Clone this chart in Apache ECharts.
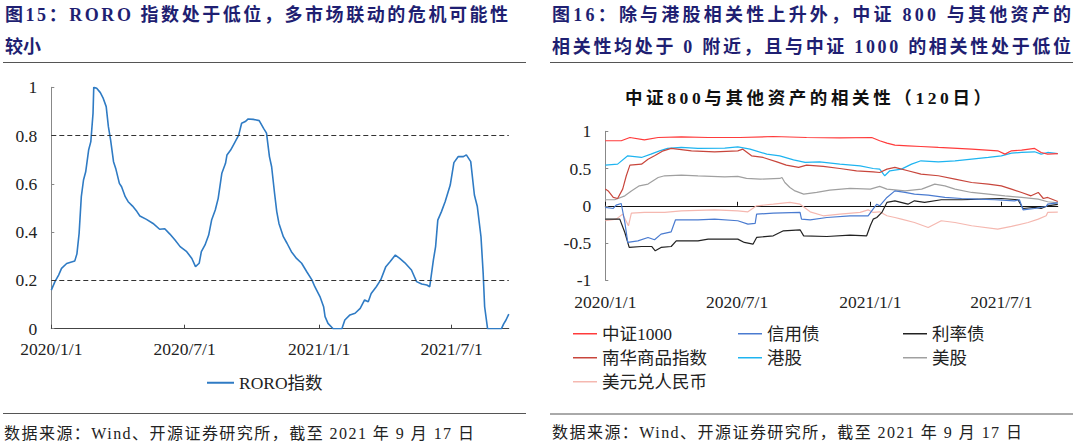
<!DOCTYPE html>
<html>
<head>
<meta charset="utf-8">
<script src="https://cdn.jsdelivr.net/npm/echarts@6/dist/echarts.min.js"></script>
<style>
html,body{margin:0;padding:0;background:#fff;}
#c{width:1080px;height:443px;}
</style>
</head>
<body>
<div id="c"></div>
<script>
// ---------- DATA ----------
const xTickDates = ['2020-01-01', '2020-07-01', '2021-01-01', '2021-07-01'];
const dateMin = '2020-01-01';
const dateMax = '2021-09-17';

// Left: RORO index
const roroName = 'RORO指数';
const roro = [
 ['2020-01-01',0.16],['2020-01-06',0.195],['2020-01-11',0.222],['2020-01-15',0.25],['2020-01-22',0.27],
 ['2020-02-02',0.28],['2020-02-05',0.31],['2020-02-08',0.395],['2020-02-11',0.547],['2020-02-14',0.616],
 ['2020-02-17',0.65],['2020-02-21',0.74],['2020-02-24',0.775],['2020-02-27',0.892],['2020-02-28',1.0],
 ['2020-03-03',0.996],['2020-03-08',0.978],['2020-03-12',0.954],['2020-03-16',0.92],['2020-03-19',0.837],
 ['2020-03-22',0.782],['2020-03-26',0.692],['2020-03-29',0.664],['2020-04-03',0.602],['2020-04-06',0.588],
 ['2020-04-11',0.547],['2020-04-15',0.526],['2020-04-21',0.508],['2020-04-27',0.485],['2020-05-01',0.467],
 ['2020-05-10',0.453],['2020-05-19',0.436],['2020-05-28',0.412],['2020-06-04',0.414],['2020-06-11',0.392],
 ['2020-06-18',0.367],['2020-06-25',0.34],['2020-07-04',0.319],['2020-07-11',0.291],['2020-07-16',0.257],
 ['2020-07-21',0.271],['2020-07-24',0.319],['2020-07-29',0.347],['2020-08-03',0.388],['2020-08-07',0.45],
 ['2020-08-12',0.492],['2020-08-16',0.54],['2020-08-21',0.644],['2020-08-26',0.685],['2020-08-28',0.72],
 ['2020-09-02',0.74],['2020-09-07',0.768],['2020-09-13',0.802],['2020-09-17',0.851],['2020-09-22',0.858],
 ['2020-09-26',0.869],['2020-10-03',0.867],['2020-10-11',0.862],['2020-10-17',0.83],['2020-10-21',0.81],
 ['2020-10-25',0.713],['2020-10-28',0.671],['2020-11-01',0.561],['2020-11-04',0.485],['2020-11-07',0.436],
 ['2020-11-13',0.381],['2020-11-18',0.354],['2020-11-24',0.319],['2020-12-01',0.291],['2020-12-08',0.271],
 ['2020-12-15',0.236],['2020-12-22',0.202],['2020-12-26',0.174],['2021-01-02',0.133],['2021-01-07',0.091],
 ['2021-01-09',0.05],['2021-01-13',0.022],['2021-01-20',0.0],['2021-02-01',0.0],['2021-02-05',0.036],
 ['2021-02-12',0.057],['2021-02-19',0.064],['2021-02-26',0.084],['2021-03-04',0.119],['2021-03-09',0.112],
 ['2021-03-13',0.146],['2021-03-20',0.174],['2021-03-26',0.202],['2021-04-02',0.257],['2021-04-08',0.278],
 ['2021-04-15',0.305],['2021-04-21',0.291],['2021-04-28',0.273],['2021-05-07',0.243],['2021-05-14',0.195],
 ['2021-05-21',0.185],['2021-05-28',0.181],['2021-06-01',0.174],['2021-06-06',0.285],['2021-06-09',0.34],
 ['2021-06-12',0.45],['2021-06-17',0.485],['2021-06-22',0.526],['2021-06-29',0.595],['2021-07-04',0.688],
 ['2021-07-10',0.713],['2021-07-17',0.713],['2021-07-21',0.72],['2021-07-27',0.692],['2021-08-01',0.554],
 ['2021-08-05',0.506],['2021-08-10',0.381],['2021-08-13',0.229],['2021-08-15',0.091],['2021-08-19',0.0],
 ['2021-09-07',0.0],['2021-09-10',0.02],['2021-09-13',0.035],['2021-09-17',0.06]
];
const roroThresholds = [0.8, 0.2];
const leftYTicks = {min: 0, max: 1, interval: 0.2};

// Right: correlation of CSI 800 with other assets (120d)
const rightYTicks = {min: -1, max: 1, interval: 0.5};
const csi1000 = [
 ['2020-01-01',0.873],['2020-01-23',0.873],['2020-02-04',0.917],['2020-02-24',0.886],['2020-03-14',0.917],
 ['2020-04-15',0.926],['2020-05-22',0.917],['2020-07-05',0.917],['2020-08-20',0.93],['2020-10-05',0.917],
 ['2020-11-20',0.913],['2021-01-03',0.917],['2021-01-14',0.873],['2021-01-24',0.841],['2021-02-04',0.814],
 ['2021-02-22',0.805],['2021-03-12',0.796],['2021-04-05',0.783],['2021-05-21',0.76],['2021-06-26',0.738],
 ['2021-07-06',0.694],['2021-07-15',0.738],['2021-07-29',0.747],['2021-08-16',0.77],['2021-08-25',0.716],
 ['2021-09-03',0.694],['2021-09-17',0.70]
];
const creditBond = [
 ['2020-01-01',-0.022],['2020-01-12',-0.036],['2020-01-16',0.009],['2020-01-23',0.031],['2020-01-28',-0.224],
 ['2020-02-01',-0.492],['2020-02-15',-0.47],['2020-02-29',-0.425],['2020-03-09',-0.456],['2020-03-18',-0.38],
 ['2020-04-01',-0.349],['2020-04-07',-0.188],['2020-05-08',-0.188],['2020-05-31',-0.179],['2020-07-02',-0.201],
 ['2020-07-16',-0.246],['2020-07-26',-0.237],['2020-07-28',-0.112],['2020-08-20',-0.098],['2020-09-26',-0.089],
 ['2020-09-28',-0.179],['2020-10-10',-0.188],['2020-11-02',-0.157],['2020-12-04',-0.134],['2020-12-29',-0.134],
 ['2021-01-03',-0.067],['2021-01-10',0.022],['2021-01-14',0.0],['2021-01-24',0.112],['2021-02-04',0.2],
 ['2021-02-18',0.179],['2021-03-03',0.157],['2021-03-22',0.143],['2021-04-14',0.112],['2021-05-07',0.098],
 ['2021-05-30',0.089],['2021-06-22',0.081],['2021-07-19',0.067],['2021-07-26',0.081],['2021-07-31',-0.054],
 ['2021-08-16',-0.036],['2021-09-01',-0.009],['2021-09-03',0.022],['2021-09-17',0.04]
];
const rateBond = [
 ['2020-01-01',-0.179],['2020-01-21',-0.179],['2020-01-28',-0.358],['2020-02-03',-0.559],['2020-02-20',-0.546],
 ['2020-03-05',-0.546],['2020-03-10',-0.604],['2020-03-18',-0.559],['2020-04-01',-0.546],['2020-04-08',-0.47],
 ['2020-05-08',-0.47],['2020-05-22',-0.447],['2020-07-02',-0.447],['2020-07-11',-0.492],['2020-07-23',-0.515],
 ['2020-07-28',-0.425],['2020-08-20',-0.403],['2020-09-03',-0.336],['2020-09-26',-0.322],['2020-10-01',-0.403],
 ['2020-11-02',-0.412],['2020-12-04',-0.394],['2020-12-27',-0.403],['2021-01-01',-0.268],['2021-01-05',-0.179],
 ['2021-01-10',-0.157],['2021-01-17',-0.089],['2021-01-24',0.045],['2021-02-04',0.067],['2021-02-22',0.022],
 ['2021-03-03',0.067],['2021-03-17',0.045],['2021-04-09',0.081],['2021-05-07',0.081],['2021-06-03',0.089],
 ['2021-07-01',0.098],['2021-07-24',0.081],['2021-07-31',-0.036],['2021-08-16',-0.022],['2021-08-25',-0.036],
 ['2021-09-03',0.0],['2021-09-17',0.02]
];
const nanhuaCommodity = [
 ['2020-01-01',0.224],['2020-01-05',0.2],['2020-01-12',0.112],['2020-01-18',0.098],['2020-01-25',0.224],
 ['2020-01-30',0.403],['2020-02-04',0.546],['2020-02-20',0.559],['2020-02-29',0.626],['2020-03-09',0.671],
 ['2020-03-21',0.738],['2020-04-01',0.77],['2020-04-29',0.738],['2020-05-31',0.725],['2020-07-02',0.738],
 ['2020-07-09',0.76],['2020-07-21',0.671],['2020-08-06',0.649],['2020-08-25',0.59],['2020-09-07',0.546],
 ['2020-09-24',0.515],['2020-10-05',0.546],['2020-10-28',0.528],['2020-11-20',0.501],['2020-12-13',0.47],
 ['2021-01-05',0.456],['2021-01-14',0.447],['2021-01-24',0.492],['2021-02-04',0.515],['2021-02-22',0.47],
 ['2021-03-12',0.425],['2021-04-05',0.403],['2021-04-28',0.358],['2021-05-21',0.313],['2021-06-13',0.291],
 ['2021-07-01',0.268],['2021-07-15',0.224],['2021-07-29',0.179],['2021-08-11',0.134],['2021-08-21',0.179],
 ['2021-08-28',0.098],['2021-09-03',0.112],['2021-09-17',0.058]
];
const hkStocks = [
 ['2020-01-01',0.546],['2020-01-18',0.559],['2020-02-01',0.671],['2020-02-20',0.649],['2020-03-04',0.693],
 ['2020-03-16',0.738],['2020-03-27',0.77],['2020-04-15',0.783],['2020-05-08',0.77],['2020-06-14',0.774],
 ['2020-07-02',0.792],['2020-07-19',0.761],['2020-08-11',0.693],['2020-08-29',0.671],['2020-09-17',0.617],
 ['2020-10-03',0.582],['2020-10-23',0.59],['2020-11-20',0.559],['2020-12-18',0.537],['2021-01-05',0.501],
 ['2021-01-14',0.492],['2021-01-21',0.403],['2021-01-28',0.47],['2021-02-13',0.492],['2021-02-27',0.559],
 ['2021-03-12',0.604],['2021-04-05',0.59],['2021-04-28',0.604],['2021-05-21',0.626],['2021-06-13',0.649],
 ['2021-07-01',0.671],['2021-07-15',0.707],['2021-07-29',0.716],['2021-08-16',0.725],['2021-08-25',0.694],
 ['2021-09-03',0.716],['2021-09-17',0.70]
];
const usStocks = [
 ['2020-01-01',0.081],['2020-01-14',0.081],['2020-01-28',0.134],['2020-02-06',0.2],['2020-02-17',0.268],
 ['2020-02-29',0.291],['2020-03-07',0.336],['2020-03-14',0.38],['2020-03-23',0.403],['2020-04-15',0.412],
 ['2020-05-08',0.403],['2020-06-14',0.389],['2020-07-02',0.394],['2020-07-14',0.367],['2020-08-02',0.358],
 ['2020-08-29',0.367],['2020-09-01',0.38],['2020-09-05',0.313],['2020-09-12',0.246],['2020-09-19',0.2],
 ['2020-10-01',0.157],['2020-10-19',0.179],['2020-11-06',0.21],['2020-12-04',0.233],['2021-01-01',0.224],
 ['2021-01-14',0.26],['2021-01-24',0.224],['2021-02-18',0.2],['2021-03-13',0.224],['2021-03-31',0.291],
 ['2021-04-14',0.268],['2021-04-28',0.224],['2021-05-21',0.179],['2021-06-13',0.157],['2021-07-06',0.134],
 ['2021-07-29',0.112],['2021-08-21',0.089],['2021-09-03',0.054],['2021-09-17',0.04]
];
const usdCny = [
 ['2020-01-01',-0.201],['2020-01-16',-0.179],['2020-01-25',-0.112],['2020-02-02',-0.268],['2020-02-06',-0.098],
 ['2020-02-24',-0.089],['2020-03-23',-0.089],['2020-04-15',-0.067],['2020-05-31',-0.054],['2020-07-02',-0.067],
 ['2020-07-16',-0.081],['2020-07-28',0.0],['2020-08-20',0.022],['2020-09-12',0.045],['2020-09-26',0.022],
 ['2020-10-10',-0.081],['2020-10-28',-0.134],['2020-11-20',-0.112],['2020-12-18',-0.089],['2020-12-29',-0.054],
 ['2021-01-05',-0.089],['2021-01-14',-0.081],['2021-01-24',-0.134],['2021-02-04',-0.157],['2021-02-13',-0.179],
 ['2021-03-03',-0.224],['2021-03-22',-0.291],['2021-04-09',-0.201],['2021-04-28',-0.224],['2021-05-21',-0.268],
 ['2021-06-26',-0.313],['2021-07-15',-0.277],['2021-08-07',-0.224],['2021-08-21',-0.179],['2021-09-01',-0.134],
 ['2021-09-03',-0.089],['2021-09-17',-0.086]
];
const rightSeriesNames = ['中证1000','信用债','利率债','南华商品指数','港股','美股','美元兑人民币'];
const rightSeriesData = [csi1000, creditBond, rateBond, nanhuaCommodity, hkStocks, usStocks, usdCny];

// ---------- TEXTS ----------
const leftTitle1 = '图15：RORO 指数处于低位，多市场联动的危机可能性';
const leftTitle2 = '较小';
const rightTitle1 = '图16：除与港股相关性上升外，中证 800 与其他资产的';
const rightTitle2 = '相关性均处于 0 附近，且与中证 1000 的相关性处于低位';
const rightChartTitle = '中证800与其他资产的相关性（120日）';
const sourceText = '数据来源：Wind、开源证券研究所，截至 2021 年 9 月 17 日';

// ---------- STYLE ----------
const FONT = "'Liberation Serif','Noto Sans CJK SC',serif";
const NAVY = '#1f1f72';
const rightColors = ['#ff3b3b','#4a7bd0','#222222','#c8463c','#1eb4f0','#a0a0a0','#f5b8b0'];
const legendPos = [[573,334],[738,334],[903,334],[573,358],[738,358],[903,358],[573,382]];
// target widths (px) for justified text lines
const justify = {};
justify[leftTitle1] = 503;
justify[rightTitle1] = 519;
justify[rightTitle2] = 519;
justify[rightChartTitle] = 366;
justify[sourceText] = 470;

const P = v => echarts.time.parse(v).getTime();
const tickVals = xTickDates.map(P);
const toTs = arr => arr.map(d => [P(d[0]), d[1]]);
const fmtDate = v => { const d = new Date(v); return d.getFullYear() + '/' + (d.getMonth()+1) + '/' + d.getDate(); };

function txt(x, y, text, size, opts) {
  opts = opts || {};
  return {type:'text', x:x, y:y, silent:true, style:{text:text, fontSize:size, fontFamily:FONT,
    fontWeight: opts.bold ? 'bold' : 'normal', fill: opts.color || '#222', align: opts.align || 'left', verticalAlign:'middle'}};
}
function hline(x1, x2, y) {
  return {type:'line', silent:true, shape:{x1:x1, y1:y, x2:x2, y2:y}, style:{stroke:'#555', lineWidth:1}};
}

const axisLabelStyle = {fontFamily: FONT, fontSize: 17.5, color: '#222'};

const chart = echarts.init(document.getElementById('c'), null, {renderer:'svg'});

const series = [{
  name: roroName, type:'line', xAxisIndex:0, yAxisIndex:0, data: toTs(roro), showSymbol:false, symbol:'none',
  lineStyle:{color:'#2f7bc4', width:1.6}, itemStyle:{color:'#2f7bc4'},
  markLine:{silent:true, symbol:'none', label:{show:false},
    lineStyle:{color:'#333', type:[5,3], width:1},
    data: roroThresholds.map(v => ({yAxis: v}))}
}];
rightSeriesNames.forEach((n, i) => {
  series.push({name:n, type:'line', xAxisIndex:1, yAxisIndex:1, data:toTs(rightSeriesData[i]), showSymbol:false, symbol:'none',
    lineStyle:{color:rightColors[i], width:1.2}, itemStyle:{color:rightColors[i]}, z: 10 - i});
});

const legends = [{
  data:[roroName], left:207, top:374, padding:0, icon:'rect', itemWidth:27, itemHeight:2, selectedMode:false,
  textStyle:{fontFamily:FONT, fontSize:17.5, color:'#222'}
}];
rightSeriesNames.forEach((n, i) => {
  legends.push({data:[n], left:legendPos[i][0], top:legendPos[i][1]-9, padding:0, icon:'rect', itemWidth:24, itemHeight:1.5,
    selectedMode:false, textStyle:{fontFamily:FONT, fontSize:17.5, color:'#222'}});
});

const xMin = P(dateMin), xMax = P(dateMax);
const option = {
  animation:false,
  backgroundColor:'#fff',
  grid:[
    {left:51.3, top:87.3, width:457.5, height:241.4},
    {left:605.3, top:131.3, width:452.5, height:149}
  ],
  xAxis:[
    {type:'value', gridIndex:0, min:xMin, max:xMax,
      axisLine:{lineStyle:{color:'#444', width:1}},
      axisTick:{inside:true, length:4, customValues:tickVals, lineStyle:{color:'#444'}},
      axisLabel:Object.assign({customValues:tickVals, formatter:fmtDate, margin:12, hideOverlap:false}, axisLabelStyle),
      splitLine:{show:false}},
    {type:'value', gridIndex:1, min:xMin, max:xMax,
      axisLine:{onZero:true, lineStyle:{color:'#111', width:1}},
      axisTick:{inside:true, length:4, customValues:tickVals, lineStyle:{color:'#111'}},
      axisLabel:{show:false}, splitLine:{show:false}},
    {type:'value', gridIndex:1, position:'bottom', min:xMin, max:xMax,
      axisLine:{show:false, onZero:false}, axisTick:{show:false},
      axisLabel:Object.assign({customValues:tickVals, formatter:fmtDate, margin:13, hideOverlap:false}, axisLabelStyle),
      splitLine:{show:false}}
  ],
  yAxis:[
    {type:'value', gridIndex:0, min:leftYTicks.min, max:leftYTicks.max, interval:leftYTicks.interval,
      axisLine:{show:true, onZero:false, lineStyle:{color:'#888'}}, axisTick:{show:true, inside:true, length:3, lineStyle:{color:'#888'}},
      axisLabel:Object.assign({margin:14, formatter: v => String(+v.toFixed(1))}, axisLabelStyle), splitLine:{show:false}},
    {type:'value', gridIndex:1, min:rightYTicks.min, max:rightYTicks.max, interval:rightYTicks.interval,
      axisLine:{show:true, onZero:false, lineStyle:{color:'#888'}}, axisTick:{show:true, inside:true, length:3, lineStyle:{color:'#888'}},
      axisLabel:Object.assign({margin:14, formatter: v => String(+v.toFixed(1))}, axisLabelStyle), splitLine:{show:false}}
  ],
  legend: legends,
  series: series,
  graphic: [
    txt(5, 15, leftTitle1, 18, {bold:true, color:NAVY}),
    txt(5, 47, leftTitle2, 18, {bold:true, color:NAVY}),
    hline(3, 526, 62.5),
    txt(552, 15, rightTitle1, 18, {bold:true, color:NAVY}),
    txt(552, 47, rightTitle2, 18, {bold:true, color:NAVY}),
    hline(550, 1073, 62.5),
    txt(625, 98, rightChartTitle, 17.5, {bold:true, color:'#111'}),
    hline(3, 526, 413.5),
    hline(550, 1073, 414),
    txt(4, 433, sourceText, 16, {color:'#222'}),
    txt(552, 432, sourceText, 16, {color:'#222'})
  ]
};
chart.setOption(option);

// spread justified lines (letter spacing) like the original typeset text
function applyJustify() {
  document.querySelectorAll('#c svg text').forEach(t => {
    const s = t.textContent;
    if (justify[s] === undefined || t.getAttribute('data-j')) return;
    const len = t.getComputedTextLength();
    const n = Array.from(s).length;
    if (n > 1 && len > 0) {
      const sp = (justify[s] - len) / (n - 1);
      if (sp > 0) t.setAttribute('letter-spacing', sp.toFixed(2));
    }
    t.setAttribute('data-j', '1');
  });
}
chart.on('finished', applyJustify);
setTimeout(applyJustify, 30);
</script>
</body>
</html>
